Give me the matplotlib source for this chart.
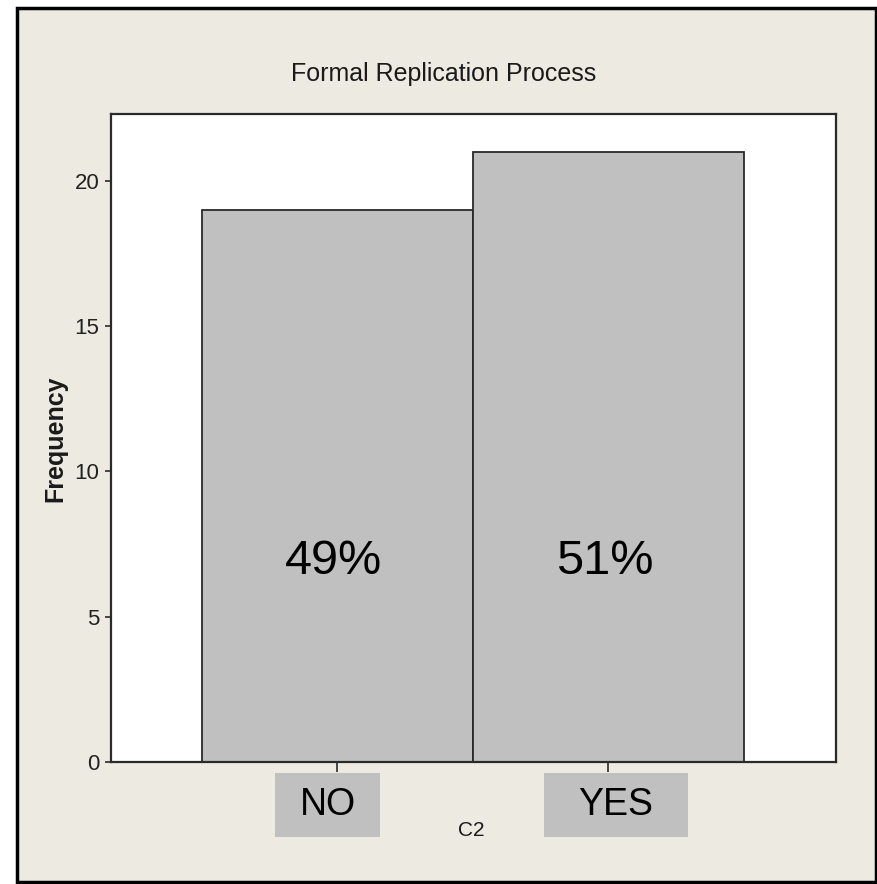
import matplotlib.pyplot as plt
from matplotlib.patches import Rectangle

# Frequency of answers for column C2
categories = ["NO", "YES"]
counts = [19, 21]
percent_labels = ["49%", "51%"]

W, H = 878, 884
BG = "#edeae1"
BAR = "#c0c0c0"
NARROW = ["Liberation Sans Narrow", "DejaVu Sans Condensed", "Liberation Sans", "DejaVu Sans"]
ARIAL = ["Liberation Sans", "DejaVu Sans"]


def px(x, y):
    # pixel position (from top-left) to figure fraction
    return x / W, 1 - y / H


fig = plt.figure(figsize=(W / 100, H / 100), dpi=100, facecolor="white")

# beige panel with the black frame
x0, y0 = px(17, 882)
x1, y1 = px(876, 8)
fig.patches.append(Rectangle((x0, y0), x1 - x0, y1 - y0, transform=fig.transFigure,
                             facecolor=BG, edgecolor="black", linewidth=2.5, zorder=-2))

left, bottom = px(111, 762)
right, top = px(836, 114)
ax = fig.add_axes([left, bottom, right - left, top - bottom])
ax.set_facecolor("white")

xs = range(len(categories))
ax.bar(xs, counts, width=1.0, color=BAR, edgecolor="#2a2a2a", linewidth=1.3, zorder=2)
for x, c, lab in zip(xs, counts, percent_labels):
    ax.text(x - 0.015, 6.9, lab, ha="center", va="center", fontsize=35,
            family=ARIAL, color="black", zorder=3)

ax.set_xlim(-0.836, 1.84)
ax.set_ylim(0, 22.3)
ax.set_yticks([0, 5, 10, 15, 20])
ax.set_xticks(list(xs))
ax.set_xticklabels([])
ax.tick_params(axis="y", direction="out", length=4.5, width=1.2, pad=4,
               labelsize=16, color="#2a2a2a", labelcolor="#222222")
ax.tick_params(axis="x", direction="out", length=7.5, width=1.2, color="#2a2a2a")
for lab in ax.get_yticklabels():
    lab.set_family(NARROW)
for s in ax.spines.values():
    s.set_color("#2a2a2a")
    s.set_linewidth(1.6)

# grey category boxes under the ticks
box_spans = [(275, 380), (544, 688)]
for lab, (bl, br) in zip(categories, box_spans):
    bx0, by0 = px(bl, 837)
    bx1, by1 = px(br, 773)
    fig.patches.append(Rectangle((bx0, by0), bx1 - bx0, by1 - by0, transform=fig.transFigure,
                                 facecolor=BAR, edgecolor="none", zorder=-1))
    fig.text((bx0 + bx1) / 2, (by0 + by1) / 2, lab, ha="center", va="center",
             fontsize=27, family=ARIAL, color="black")

fig.text(*px(444, 74), "Formal Replication Process", ha="center", va="center",
         fontsize=18, family=NARROW, color="#1a1a1a")
fig.text(*px(55, 439), "Frequency", ha="center", va="center", rotation=90,
         fontsize=18, fontweight="bold", family=NARROW, color="#1a1a1a")
fig.text(*px(471, 831), "C2", ha="center", va="center",
         fontsize=15, family=NARROW, color="#1a1a1a")

fig.savefig("out.png", dpi=100, facecolor="white")
